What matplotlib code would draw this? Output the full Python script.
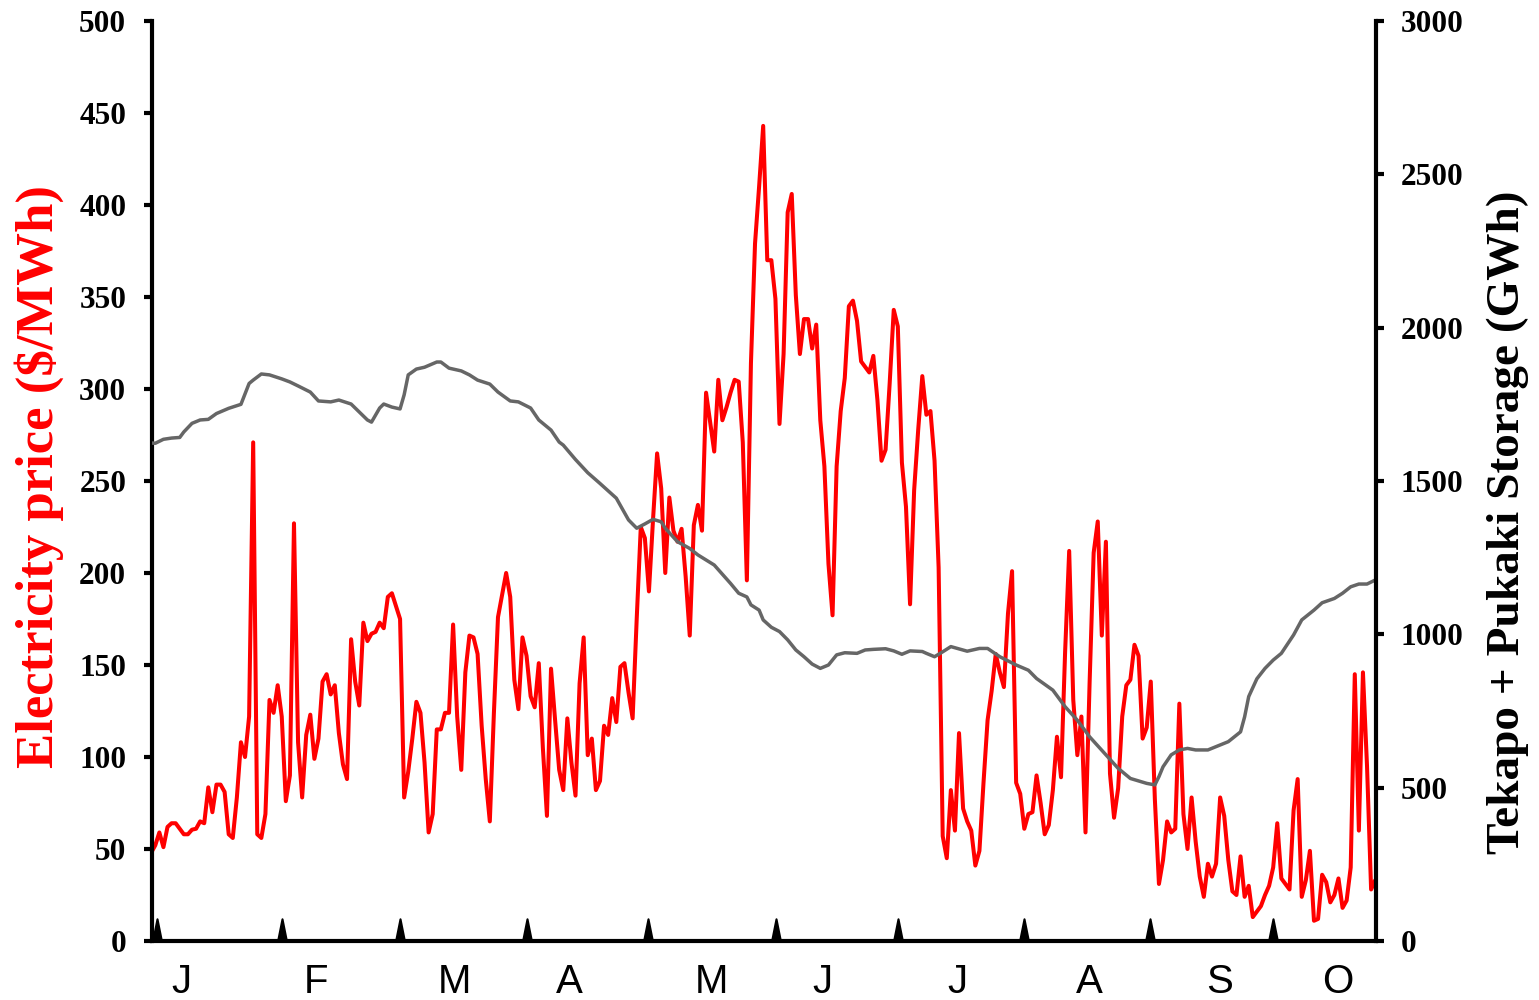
import numpy as np
import matplotlib.pyplot as plt
from matplotlib.path import Path

# daily electricity price ($/MWh)
price = [
    48, 52, 59, 51, 62, 64, 64, 61, 58, 58,
    60.5, 61, 65, 64, 83.5, 70, 85, 85, 81, 58,
    56, 78, 108, 100, 122, 271, 58, 56, 69, 131,
    124, 139, 122, 76, 90, 227, 108, 78, 112, 123,
    99, 110, 141, 145, 134, 139, 113, 96, 88, 164,
    141, 128, 173, 163, 167, 168, 173, 170, 187, 189,
    182, 175, 78, 92, 110, 130, 124, 97, 59, 69,
    115, 115, 124, 124, 172, 122, 93, 146, 166, 165,
    156, 117, 88, 65, 124, 176, 188, 200, 187, 142,
    126, 165, 155, 133, 127, 151, 105, 68, 148, 120,
    93, 82, 121, 97, 79, 140, 165, 101, 110, 82,
    87, 117, 112, 132, 119, 149, 151, 135, 121, 175,
    225, 219, 190, 229, 265, 246, 200, 241, 223, 217,
    224, 198, 166, 226, 237, 223, 298, 282, 266, 305,
    283, 290, 298, 305, 304, 271, 196, 314, 379, 410,
    443, 370, 370, 349, 281, 319, 396, 406, 351, 319,
    338, 338, 322, 335, 283, 258, 205, 177, 258, 288,
    306, 345, 348, 337, 315, 312, 309, 318, 294, 261,
    267, 303, 343, 334, 260, 236, 183, 245, 278, 307,
    286, 288, 261, 203, 57, 45, 82, 60, 113, 72,
    65, 60, 41, 49, 86, 120, 136, 156, 146, 138,
    178, 201, 86, 80, 61, 69, 70, 90, 75, 58,
    63, 82, 111, 89, 157, 212, 131, 101, 122, 59,
    140, 211, 228, 166, 217, 91, 67, 83, 122, 139,
    142, 161, 155, 110, 116, 141, 77, 31, 44, 65,
    59, 61, 129, 69, 50, 78, 54, 35, 24, 42,
    35, 42, 78, 68, 44, 27, 25, 46, 24, 30,
    13, 16, 19, 25, 30, 40, 64, 34, 31, 28,
    71, 88, 24, 33, 49, 11, 12, 36, 32, 21,
    25, 34, 18, 22, 40, 145, 60, 146, 95, 28,
    33, 12,
]

# Tekapo + Pukaki storage (GWh) at selected days
storage_day = [
    0, 1, 3, 5, 7, 8, 10, 12, 14, 16, 19, 22, 24, 25, 27, 29, 32, 34, 36, 39,
    41, 44, 46, 49, 51, 53, 54, 56, 57, 59, 61, 62, 63, 65, 67, 70, 71, 73, 76, 78,
    80, 83, 85, 88, 90, 93, 95, 98, 100, 101, 104, 107, 110, 114, 117, 119, 121, 123, 125, 126,
    129, 132, 134, 138, 142, 144, 146, 147, 149, 150, 152, 154, 156, 158, 160, 162, 164, 166, 168, 170,
    173, 175, 177, 180, 182, 184, 186, 189, 190, 192, 194, 196, 200, 203, 205, 208, 212, 215, 217, 221,
    224, 227, 230, 234, 237, 240, 244, 246, 247, 248, 250, 252, 254, 256, 259, 262, 264, 267, 268, 269,
    271, 273, 275, 277, 280, 282, 285, 287, 290, 292, 294, 296, 298, 300,
]
storage_gwh = [
    1624, 1623, 1636, 1640, 1642, 1660, 1688, 1699, 1701, 1720, 1737, 1750, 1818, 1829, 1849, 1846, 1833, 1823, 1810, 1790,
    1761, 1758, 1764, 1751, 1725, 1699, 1692, 1738, 1751, 1741, 1735, 1781, 1846, 1865, 1871, 1888, 1888, 1868, 1859, 1846,
    1829, 1816, 1790, 1761, 1758, 1738, 1699, 1666, 1627, 1617, 1570, 1527, 1492, 1444, 1373, 1346, 1360, 1375, 1367, 1346,
    1302, 1280, 1259, 1226, 1166, 1134, 1122, 1096, 1079, 1047, 1023, 1009, 982, 949, 927, 903, 889, 900, 933, 940,
    938, 949, 951, 953, 946, 935, 946, 944, 938, 927, 943, 960, 945, 954, 954, 927, 900, 883, 856, 818,
    764, 720, 666, 607, 563, 530, 514, 509, 536, 568, 607, 623, 628, 623, 623, 639, 650, 682, 731, 797,
    855, 889, 916, 938, 998, 1047, 1079, 1103, 1117, 1134, 1155, 1164, 1164, 1177,
]

month_names = ["J", "F", "M", "A", "M", "J", "J", "A", "S", "O"]
month_tick_day = [1.4, 32.0, 61.0, 92.1, 121.7, 153.1, 183.0, 213.9, 244.8, 274.9]
month_label_day = [7.5, 40.4, 74.4, 102.6, 137.2, 164.6, 197.7, 230.0, 261.9, 290.9]

serif = ["Liberation Serif", "DejaVu Serif"]
sans = ["Liberation Sans", "DejaVu Sans"]

day = np.arange(len(price))

fig = plt.figure(figsize=(15.39, 10), dpi=100)
ax = fig.add_axes([152 / 1539, 59 / 1000, 1224 / 1539, 920 / 1000])

ax.plot(day, price, color="#ff0000", lw=2.9, zorder=2)
ax.set_xlim(0.2, 300.2)
ax.set_ylim(0, 500)
ax.set_yticks(np.arange(0, 501, 50))
ax.spines["top"].set_visible(False)
ax.spines["right"].set_visible(False)
ax.spines["left"].set_linewidth(3)
ax.spines["bottom"].set_linewidth(3)
ax.tick_params(axis="y", direction="out", length=5.5, width=3, pad=13, labelsize=22.5)
ax.set_xticks(month_label_day, month_names)
ax.tick_params(axis="x", length=0, pad=16, labelsize=29)
for lab in ax.get_xticklabels():
    lab.set_fontfamily(sans)
for lab in ax.get_yticklabels():
    lab.set_fontfamily(serif)
    lab.set_fontweight("bold")

# little peaked month marks sitting on the axis line
bump = Path([(-0.2, 0), (0, 1), (0.2, 0), (-0.2, 0)],
            [Path.MOVETO, Path.LINETO, Path.LINETO, Path.CLOSEPOLY])
ax.plot(month_tick_day, np.zeros(len(month_tick_day)), ls="none", marker=bump,
        ms=32, color="black", mew=1.5, clip_on=False, zorder=6)

ax2 = ax.twinx()
ax2.plot(storage_day, storage_gwh, color="#666666", lw=2.5)
ax2.set_ylim(0, 3000)
ax2.set_yticks(np.arange(0, 3001, 500))
for s in ["top", "left", "bottom"]:
    ax2.spines[s].set_visible(False)
ax2.spines["right"].set_linewidth(3)
ax2.tick_params(axis="y", direction="out", length=5.5, width=3, pad=12, labelsize=22.5)
for lab in ax2.get_yticklabels():
    lab.set_fontfamily(serif)
    lab.set_fontweight("bold")

fig.text(39 / 1539, 1 - 476.5 / 1000, "Electricity price ($/MWh)", rotation=90,
         ha="center", va="center", color="#ff0000", fontsize=38,
         fontweight="bold", family=serif)
fig.text(1508 / 1539, 1 - 522.5 / 1000, "Tekapo + Pukaki Storage (GWh)", rotation=90,
         ha="center", va="center", color="black", fontsize=34,
         fontweight="bold", family=serif)

fig.savefig("out.png", dpi=100)
